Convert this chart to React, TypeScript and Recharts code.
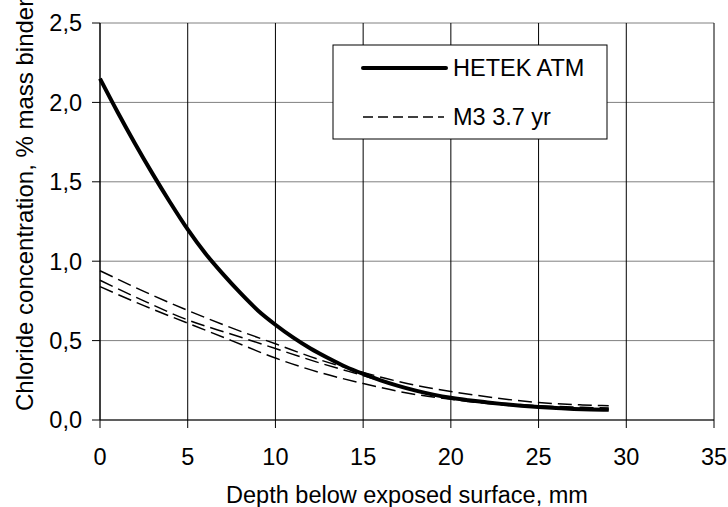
import {
  LineChart,
  Line,
  XAxis,
  YAxis,
  CartesianGrid,
} from "recharts";

const FONT = "'Liberation Sans', Arial, sans-serif";
const FS = 23.5;

// depth (mm) and chloride (% mass binder)
const hetekDepth = [0, 1, 2, 3, 4, 5, 6, 7, 8, 9, 10, 11, 12, 13, 14, 15, 16, 17, 18, 19, 20, 21, 22, 23, 24, 25, 26, 27, 28, 29];
const hetekCl = [2.15, 1.94, 1.74, 1.55, 1.37, 1.2, 1.05, 0.92, 0.8, 0.69, 0.6, 0.52, 0.45, 0.39, 0.335, 0.29, 0.25, 0.215, 0.185, 0.16, 0.14, 0.125, 0.112, 0.1, 0.09, 0.082, 0.076, 0.07, 0.066, 0.064];

const m3Depth = [0, 2.5, 5, 7.5, 10, 12.5, 15, 17.5, 20, 22.5, 25, 27.5, 29];
const m3ClA = [0.94, 0.81, 0.69, 0.58, 0.48, 0.38, 0.3, 0.23, 0.18, 0.14, 0.11, 0.095, 0.09];
const m3ClB = [0.88, 0.75, 0.63, 0.54, 0.45, 0.36, 0.28, 0.2, 0.14, 0.11, 0.09, 0.08, 0.075];
const m3ClC = [0.84, 0.72, 0.61, 0.5, 0.39, 0.3, 0.23, 0.17, 0.13, 0.1, 0.08, 0.07, 0.065];

const xTicks = [0, 5, 10, 15, 20, 25, 30, 35];
const yTicks = [0, 0.5, 1, 1.5, 2, 2.5];

const toPoints = (xs: number[], ys: number[]) => xs.map((x, i) => ({ x, y: ys[i] }));

const hetek = toPoints(hetekDepth, hetekCl);
const m3a = toPoints(m3Depth, m3ClA);
const m3b = toPoints(m3Depth, m3ClB);
const m3c = toPoints(m3Depth, m3ClC);

// the original label runs off the top edge, so it is anchored at its start
const YLabel = () => (
  <text
    transform="translate(33,411) rotate(-90)"
    textAnchor="start"
    fontSize={24}
    fontFamily={FONT}
    fill="#000"
  >
    Chloride concentration, % mass binder
  </text>
);

// legend box drawn on top of the chart, same place as in the picture
const LegendBox = () => (
  <svg
    width={276}
    height={96}
    style={{ position: "absolute", left: 332, top: 44 }}
  >
    <rect x={1} y={1} width={274} height={94} fill="#fff" stroke="#000" strokeWidth={1} />
    <line x1={31} y1={24} x2={114} y2={24} stroke="#000" strokeWidth={4} strokeLinecap="round" />
    <text x={121} y={32} fontSize={FS} fontFamily={FONT}>HETEK ATM</text>
    <line x1={31} y1={73} x2={112} y2={73} stroke="#000" strokeWidth={1.5} strokeDasharray="10 5" />
    <text x={121} y={81} fontSize={FS} fontFamily={FONT}>M3 3.7 yr</text>
  </svg>
);

const App = () => {
  return (
    <div style={{ position: "absolute", left: 0, top: 0, width: 728, height: 507, background: "#fff" }}>
      <LineChart width={728} height={507} margin={{ top: 23, right: 14, bottom: 0, left: 0 }}>
        <CartesianGrid horizontal={true} vertical={false} stroke="#808080" strokeWidth={1} />
        <CartesianGrid horizontal={false} vertical={true} stroke="#000" strokeWidth={1} />

        <XAxis
          type="number"
          dataKey="x"
          domain={[0, 35]}
          ticks={xTicks}
          height={87}
          tickSize={8}
          tickMargin={20}
          tick={{ fontSize: FS, fill: "#000", fontFamily: FONT }}
          axisLine={{ stroke: "#000", strokeWidth: 1 }}
          tickLine={{ stroke: "#000" }}
          label={{
            value: "Depth below exposed surface, mm",
            position: "insideBottom",
            offset: 4,
            fontSize: FS,
            fill: "#000",
            fontFamily: FONT,
          }}
        />

        <YAxis
          type="number"
          domain={[0, 2.5]}
          ticks={yTicks}
          width={100}
          tickSize={8}
          tickMargin={10}
          tickFormatter={(v: number) => v.toFixed(1).replace(".", ",")}
          tick={{ fontSize: FS, fill: "#000", fontFamily: FONT }}
          axisLine={{ stroke: "#000", strokeWidth: 1 }}
          tickLine={{ stroke: "#000" }}
          label={<YLabel />}
        />

        <Line data={m3a} dataKey="y" type="monotone" stroke="#000" strokeWidth={1.5} strokeDasharray="14 6" dot={false} isAnimationActive={false} />
        <Line data={m3b} dataKey="y" type="monotone" stroke="#000" strokeWidth={1.5} strokeDasharray="14 6" dot={false} isAnimationActive={false} />
        <Line data={m3c} dataKey="y" type="monotone" stroke="#000" strokeWidth={1.5} strokeDasharray="14 6" dot={false} isAnimationActive={false} />
        <Line data={hetek} dataKey="y" type="monotone" stroke="#000" strokeWidth={4} dot={false} isAnimationActive={false} />
      </LineChart>
      <LegendBox />
    </div>
  );
};

export default App;
